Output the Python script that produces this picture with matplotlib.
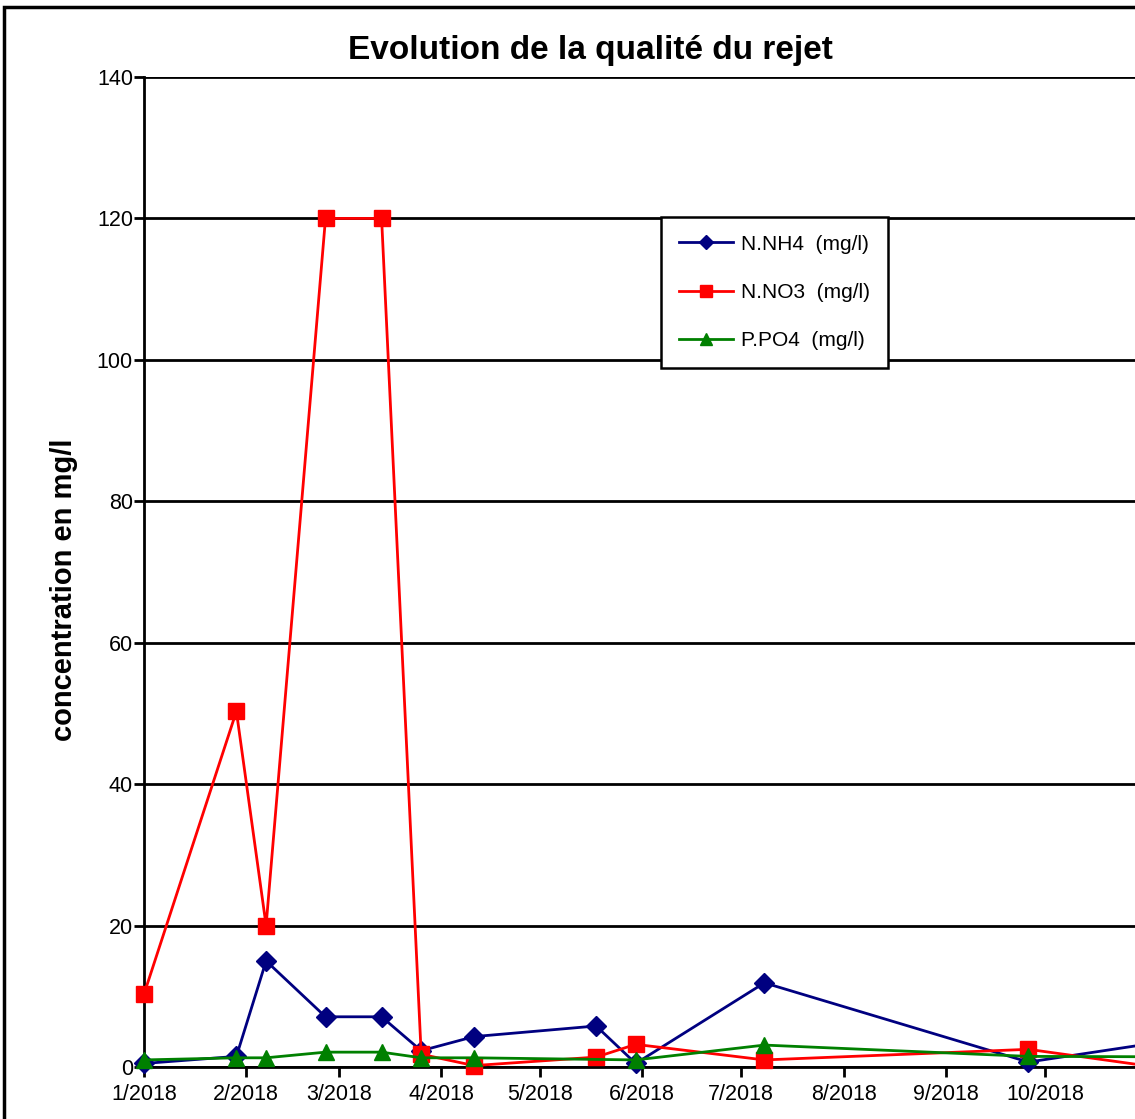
import matplotlib.pyplot as plt
import matplotlib.dates as mdates
from matplotlib.patches import Rectangle
import pandas as pd

# sampling dates (last one falls just past the visible edge)
dates = pd.to_datetime(['2018-01-01', '2018-01-29', '2018-02-07', '2018-02-25',
                        '2018-03-14', '2018-03-26', '2018-04-11', '2018-05-18',
                        '2018-05-30', '2018-07-08', '2018-09-26', '2018-11-02'])
nh4 = [0.5, 1.5, 15.0, 7.1, 7.1, 2.3, 4.3, 5.8, 0.5, 11.9, 0.7, 3.3]
no3 = [10.3, 50.3, 20.0, 120.0, 120.0, 1.8, 0.2, 1.4, 3.2, 1.0, 2.5, 0.1]
po4 = [1.0, 1.3, 1.3, 2.1, 2.1, 1.3, 1.3, None, 1.0, 3.1, 1.5, 1.45]

po4_dates = [d for d, v in zip(dates, po4) if v is not None]
po4_vals = [v for v in po4 if v is not None]

font = ['Liberation Sans', 'DejaVu Sans']

W, H = 1135, 1119
fig = plt.figure(figsize=(W / 100, H / 100), dpi=100)

# axes: left 144px, x axis at 1067px, top at 77px; right side runs past the figure edge
x0 = pd.Timestamp('2018-01-01')
x1 = pd.Timestamp('2018-12-31')
px_per_day = 3.30
ax_w = (x1 - x0).days * px_per_day
ax = fig.add_axes([144 / W, (H - 1067) / H, ax_w / W, (1067 - 77) / H])

ax.plot(dates, nh4, color='#000080', marker='D', markersize=10, lw=2,
        label='N.NH4  (mg/l)', clip_on=False, zorder=3)
ax.plot(dates, no3, color='#ff0000', marker='s', markersize=12, lw=2,
        label='N.NO3  (mg/l)', clip_on=False, zorder=3)
ax.plot(po4_dates, po4_vals, color='#008000', marker='^', markersize=12, lw=2,
        label='P.PO4  (mg/l)', clip_on=False, zorder=3)

ax.set_xlim(x0, x1)
ax.set_ylim(0, 140)
ax.set_yticks(range(0, 141, 20))
ax.yaxis.grid(True, color='black', lw=2)
ax.set_axisbelow(True)

ax.xaxis.set_major_locator(mdates.MonthLocator(bymonth=range(1, 11)))
ax.xaxis.set_major_formatter(mdates.DateFormatter('%-m/%Y'))

for s in ['top', 'right']:
    ax.spines[s].set_visible(False)
for s in ['left', 'bottom']:
    ax.spines[s].set_linewidth(2)
ax.tick_params(axis='both', length=7, width=2, direction='out')
ax.tick_params(axis='x', pad=5)
ax.tick_params(axis='y', pad=1)
for lab in ax.get_xticklabels() + ax.get_yticklabels():
    lab.set_family(font)
    lab.set_fontsize(15.5)

fig.text(64 / W, 1 - 590 / H, 'concentration en mg/l', rotation=90,
         ha='center', va='center', fontsize=21, fontweight='bold', family=font)
fig.text(590 / W, 1 - 50 / H, 'Evolution de la qualité du rejet', ha='center',
         va='center', fontsize=24, fontweight='bold', family=font)

leg = ax.legend(loc='upper left', bbox_to_anchor=(661 / W, 1 - 217 / H),
                bbox_transform=fig.transFigure, borderaxespad=0,
                prop={'family': font, 'size': 15},
                markerscale=0.7, handlelength=2.6, handletextpad=0.4,
                labelspacing=1.4, borderpad=0.85, fancybox=False, framealpha=1,
                edgecolor='black')
leg.get_frame().set_linewidth(1.8)
leg.set_zorder(5)

# outer border of the (cropped) chart frame
fig.patches.append(Rectangle((4 / W, -0.1), 2, 1.1 - 7 / H, transform=fig.transFigure,
                             fill=False, edgecolor='black', lw=2.5))

plt.savefig('out.png', dpi=100)
